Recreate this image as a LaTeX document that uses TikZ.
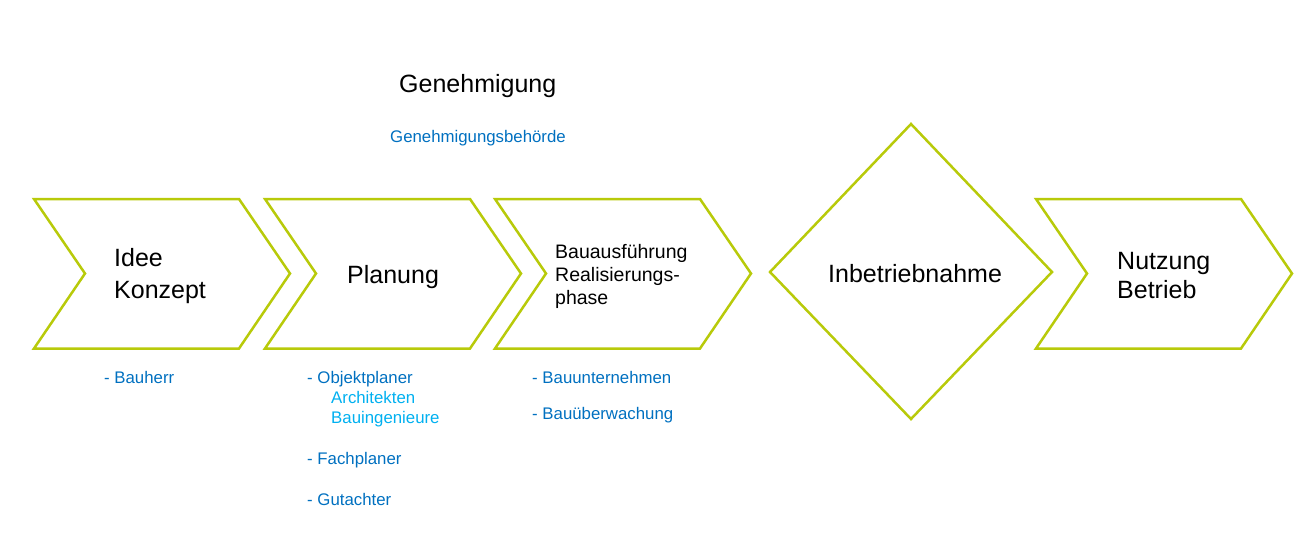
\documentclass[tikz,border=0pt]{standalone}
\usepackage{fontspec}
\setmainfont{Liberation Sans}
\definecolor{lime}{RGB}{184,202,10}
\definecolor{darkblue}{RGB}{0,112,192}
\definecolor{lightblue}{RGB}{0,176,240}
\begin{document}
\begin{tikzpicture}[x=1pt, y=-1pt,
  phase/.style={draw=lime, line width=2.5pt, line join=miter},
  title/.style={anchor=base west, inner sep=0pt, align=left, font=\fontsize{25}{32}\selectfont},
  subtitle/.style={anchor=base west, inner sep=0pt, align=left, font=\fontsize{19.5}{23}\selectfont},
  role/.style={anchor=base west, inner sep=0pt, text=darkblue, font=\fontsize{16.8}{20}\selectfont},
  subrole/.style={role, text=lightblue}
]
\useasboundingbox (0,0) rectangle (1300,544);
% chevrons
\foreach \x in {34,265,495,1036}
  \draw[phase] (\x,199) -- (\x+205,199) -- (\x+256,273.5) -- (\x+205,348.5)
    -- (\x,348.5) -- (\x+51,273.5) -- cycle;
% milestone
\draw[phase] (911,124) -- (1052,272) -- (911,419) -- (770,272) -- cycle;

\node[title] (idee) at (114,298) {Idee\\Konzept};
\node[title] (plan) at (347,283) {Planung};
\node[subtitle] (bau) at (555,304) {Bauausführung\\Realisierungs-\\phase};
\node[title] (ib) at (828,282) {Inbetriebnahme};
\node[title, font=\fontsize{25}{29}\selectfont] (nutz) at (1117,298) {Nutzung\\Betrieb};

\node[title] (gen) at (399,92) {Genehmigung};
\node[role] (genb) at (390,142) {Genehmigungsbehörde};

\node[role] (bh) at (104,383) {- Bauherr};
\node[role] (ob) at (307,383) {- Objektplaner};
\node[subrole] (ar) at (331,403) {Architekten};
\node[subrole] (bi) at (331,423) {Bauingenieure};
\node[role] (fp) at (307,464) {- Fachplaner};
\node[role] (ga) at (307,505) {- Gutachter};
\node[role] (bu) at (532,383) {- Bauunternehmen};
\node[role] (bw) at (532,419) {- Bauüberwachung};
\end{tikzpicture}
\end{document}
